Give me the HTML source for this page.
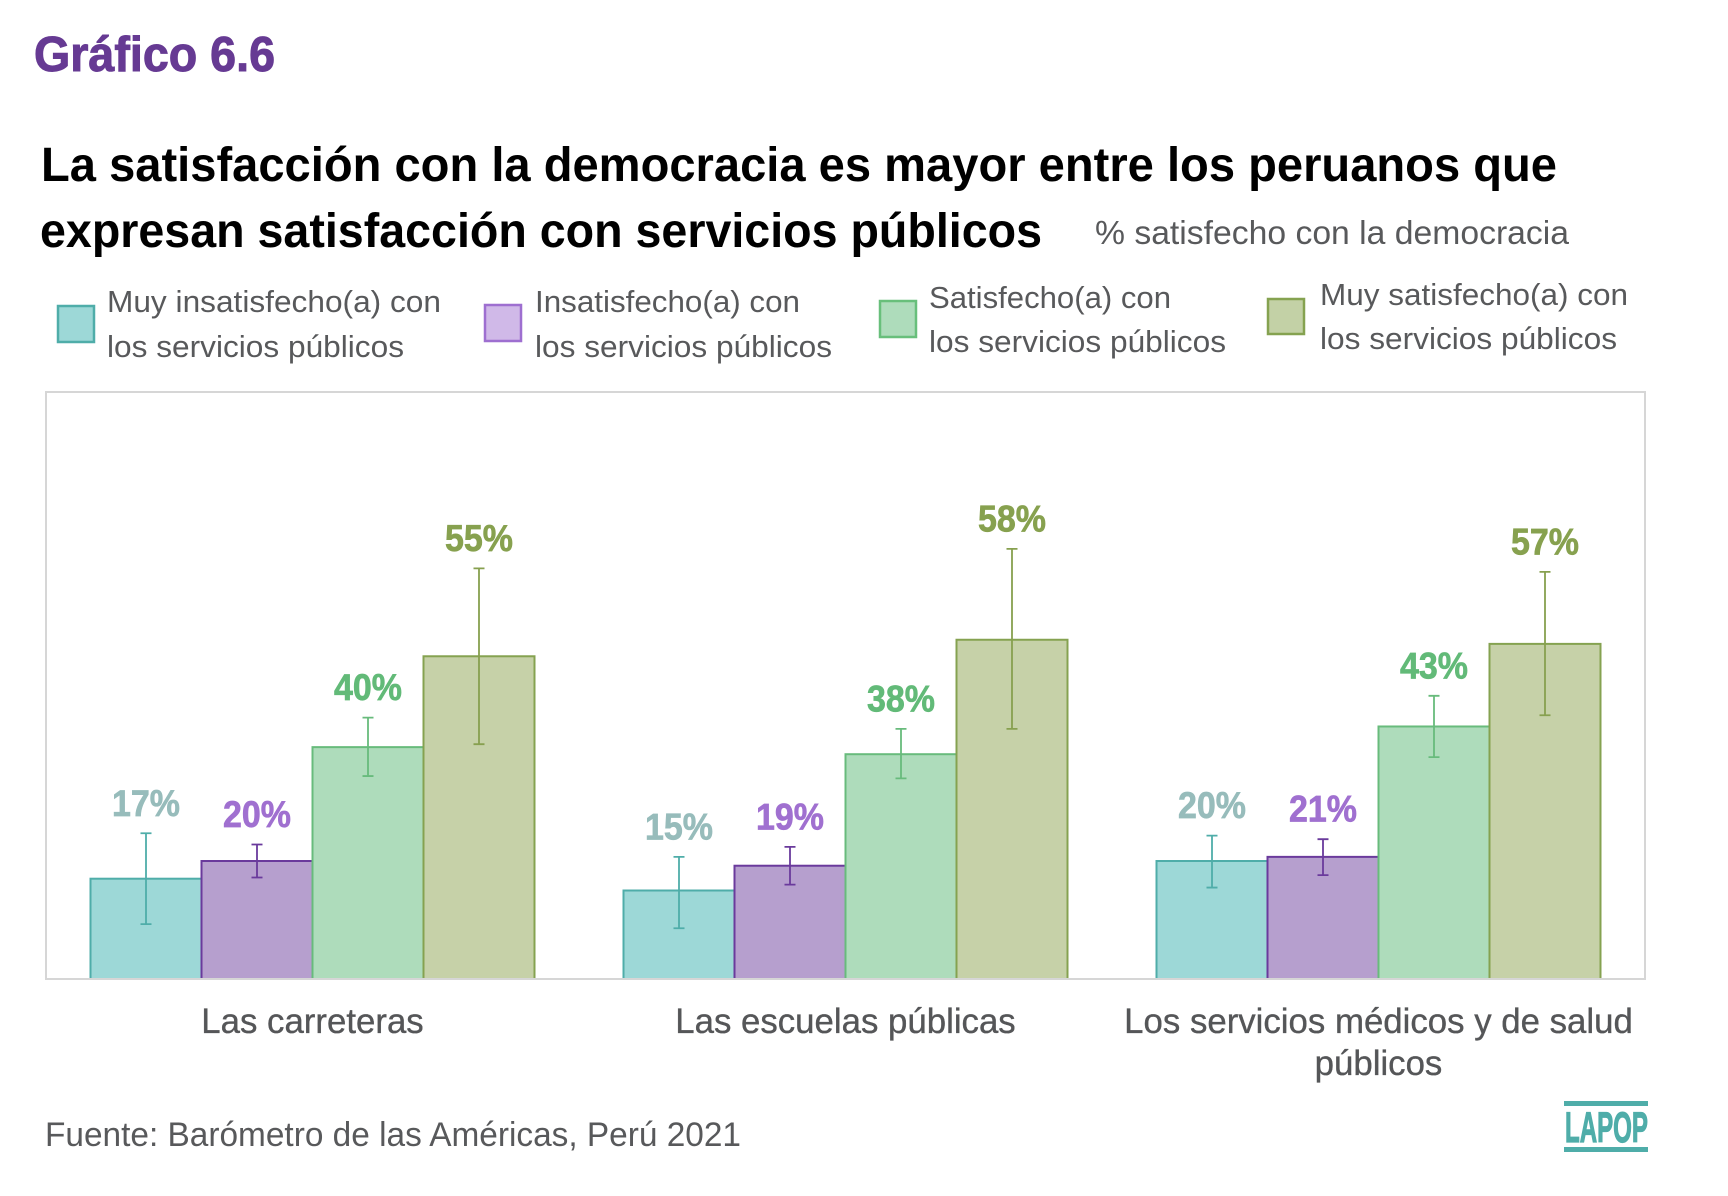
<!DOCTYPE html>
<html lang="es">
<head>
<meta charset="utf-8">
<title>Gráfico 6.6</title>
<style>
html,body{margin:0;padding:0;background:#fff;width:1728px;height:1196px;overflow:hidden}
svg{display:block;font-family:"Liberation Sans",sans-serif}
</style>
</head>
<body>
<svg id="chart" xmlns="http://www.w3.org/2000/svg" width="1728" height="1196" viewBox="0 0 1728 1196">
  <rect x="0" y="0" width="1728" height="1196" fill="#ffffff"/>
  <text x="34" y="71" font-size="49" font-weight="700" fill="#663a93" stroke="#663a93" stroke-width="1" textLength="241" lengthAdjust="spacingAndGlyphs">Gráfico 6.6</text>
  <text x="41" y="181" font-size="48" font-weight="700" fill="#000" textLength="1516" lengthAdjust="spacingAndGlyphs">La satisfacción con la democracia es mayor entre los peruanos que</text>
  <text x="40" y="247" font-size="48" font-weight="700" fill="#000" textLength="1002" lengthAdjust="spacingAndGlyphs">expresan satisfacción con servicios públicos</text>
  <text x="1095" y="244" font-size="33" fill="#58595b" textLength="474" lengthAdjust="spacingAndGlyphs">% satisfecho con la democracia</text>

  <g>
    <g>
      <rect x="58" y="306" width="36" height="36" fill="#9dd8d7" stroke="#4fada9" stroke-width="2.5"/>
      <text x="107" y="312" font-size="31" fill="#58595b" textLength="334" lengthAdjust="spacingAndGlyphs">Muy insatisfecho(a) con</text>
      <text x="107" y="357" font-size="31" fill="#58595b" textLength="297" lengthAdjust="spacingAndGlyphs">los servicios públicos</text>
    </g>
    <g>
      <rect x="485" y="305" width="36" height="36" fill="#d0b9e8" stroke="#9e6fd0" stroke-width="2.5"/>
      <text x="535" y="312" font-size="31" fill="#58595b" textLength="265" lengthAdjust="spacingAndGlyphs">Insatisfecho(a) con</text>
      <text x="535" y="357" font-size="31" fill="#58595b" textLength="297" lengthAdjust="spacingAndGlyphs">los servicios públicos</text>
    </g>
    <g>
      <rect x="880" y="301" width="36" height="36" fill="#aedcbb" stroke="#68bf7b" stroke-width="2.5"/>
      <text x="929" y="308" font-size="31" fill="#58595b" textLength="242" lengthAdjust="spacingAndGlyphs">Satisfecho(a) con</text>
      <text x="929" y="352" font-size="31" fill="#58595b" textLength="297" lengthAdjust="spacingAndGlyphs">los servicios públicos</text>
    </g>
    <g>
      <rect x="1268" y="299" width="36" height="35" fill="#c3d1a6" stroke="#85a250" stroke-width="2.5"/>
      <text x="1320" y="305" font-size="31" fill="#58595b" textLength="308" lengthAdjust="spacingAndGlyphs">Muy satisfecho(a) con</text>
      <text x="1320" y="349" font-size="31" fill="#58595b" textLength="297" lengthAdjust="spacingAndGlyphs">los servicios públicos</text>
    </g>
  </g>

  <g id="plot"></g>

  <text x="45" y="1146" font-size="34" fill="#58595b" textLength="696" lengthAdjust="spacingAndGlyphs">Fuente: Barómetro de las Américas, Perú 2021</text>

  <g>
    <rect x="1564" y="1101" width="84" height="5" fill="#4fada9"/>
    <text x="1565" y="1142" font-size="43" font-weight="700" fill="#4fada9" stroke="#4fada9" stroke-width="1.2" textLength="83" lengthAdjust="spacingAndGlyphs">LAPOP</text>
    <rect x="1564" y="1147" width="84" height="5" fill="#4fada9"/>
  </g>
</svg>
<script>
// Chart data
const categories = [
  ["Las carreteras"],
  ["Las escuelas públicas"],
  ["Los servicios médicos y de salud", "públicos"]
];
const seriesNames = ["muy-insatisfecho", "insatisfecho", "satisfecho", "muy-satisfecho"];
const muyInsatisfecho = [17, 15, 20];
const insatisfecho = [20, 19.2, 20.7];
const satisfecho = [39.3, 38.1, 42.8];
const muySatisfecho = [54.7, 57.5, 56.8];
const muyInsatisfechoLow = [9.3, 8.6, 15.5];
const muyInsatisfechoHigh = [24.7, 20.7, 24.3];
const insatisfechoLow = [17.2, 16, 17.6];
const insatisfechoHigh = [22.8, 22.4, 23.7];
const satisfechoLow = [34.4, 34, 37.6];
const satisfechoHigh = [44.3, 42.4, 48];
const muySatisfechoLow = [39.8, 42.4, 44.7];
const muySatisfechoHigh = [69.6, 72.9, 69];
const muyInsatisfechoLabels = ["17%", "15%", "20%"];
const insatisfechoLabels = ["20%", "19%", "21%"];
const satisfechoLabels = ["40%", "38%", "43%"];
const muySatisfechoLabels = ["55%", "58%", "57%"];

const values = [muyInsatisfecho, insatisfecho, satisfecho, muySatisfecho];
const lows = [muyInsatisfechoLow, insatisfechoLow, satisfechoLow, muySatisfechoLow];
const highs = [muyInsatisfechoHigh, insatisfechoHigh, satisfechoHigh, muySatisfechoHigh];
const labels = [muyInsatisfechoLabels, insatisfechoLabels, satisfechoLabels, muySatisfechoLabels];

const barFill = ["#9dd8d7", "#b69fce", "#aedcbb", "#c6d1a8"];
const barStroke = ["#4fada9", "#6a3a9c", "#68bb7c", "#85a250"];
const labelFill = ["#97bcbb", "#a070d0", "#62ba78", "#87a14f"];

const NS = "http://www.w3.org/2000/svg";
const plot = document.getElementById("plot");
const frameLeft = 46, frameRight = 1645, frameTop = 392, frameBottom = 979;
const pxPerPercent = 5.9;
const bandWidth = (frameRight - frameLeft) / categories.length;
const barWidth = 111;

function yScale(v) { return frameBottom - v * pxPerPercent; }
function xBand(i) { return frameLeft + bandWidth * (i + 0.5); }
function xBar(i, s) { return xBand(i) + (s - seriesNames.length / 2) * barWidth; }

function make(tag, attrs, parent) {
  const el = document.createElementNS(NS, tag);
  for (const k in attrs) el.setAttribute(k, attrs[k]);
  parent.appendChild(el);
  return el;
}

const frameGroup = make("g", {}, plot);



seriesNames.forEach(function (name, s) {
  const group = make("g", {}, plot);
  
  
  categories.forEach(function (cat, i) {
    const top = yScale(values[s][i]);
    const bar = make("rect", {
      x: xBar(i, s), y: top, width: barWidth, height: frameBottom - top,
      fill: barFill[s], stroke: barStroke[s], "stroke-width": 2
    }, group);
    
    
  });
});

const frame = make("path", {
  d: "M" + frameLeft + " " + frameBottom + "V" + frameTop + "H" + frameRight + "V" + frameBottom + "Z",
  fill: "none", stroke: "#d6d6d6", "stroke-width": 2
}, frameGroup);


plot.appendChild(frameGroup);

seriesNames.forEach(function (name, s) {
  categories.forEach(function (cat, i) {
    const cx = xBar(i, s) + barWidth / 2;
    const yHigh = yScale(highs[s][i]);
    const yLow = yScale(lows[s][i]);
    const err = make("path", {
      d: "M" + (cx - 5.5) + " " + yHigh + "H" + (cx + 5.5) + "M" + cx + " " + yHigh + "V" + yLow + "M" + (cx - 5.5) + " " + yLow + "H" + (cx + 5.5),
      fill: "none", stroke: s === 3 ? "#87a04f" : barStroke[s], "stroke-width": 1.8
    }, plot);
    
    
    const label = make("text", {
      x: cx, y: yHigh - 17.5, "text-anchor": "middle", "font-size": 37, "font-weight": 700,
      fill: labelFill[s], stroke: labelFill[s], "stroke-width": 0.7,
      textLength: 68, lengthAdjust: "spacingAndGlyphs"
    }, plot);
    label.textContent = labels[s][i];
    
    
  });
});

categories.forEach(function (lines, i) {
  lines.forEach(function (line, j) {
    const t = make("text", {
      x: xBand(i), y: 1033 + j * 42, "text-anchor": "middle", "font-size": 34.8,
      fill: "#555658", stroke: "#555658", "stroke-width": 0.35
    }, plot);
    t.textContent = line;
    
    
  });
});
</script>
</body>
</html>
